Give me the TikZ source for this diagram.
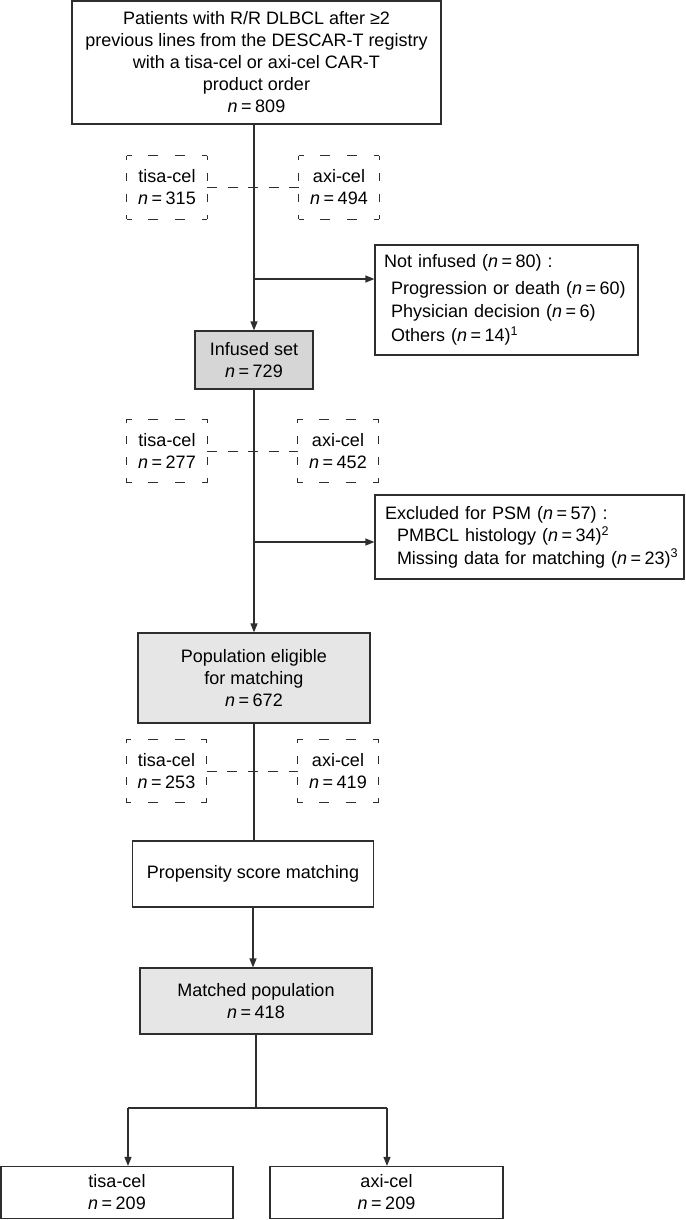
\documentclass[tikz,border=0pt]{standalone}
\usepackage{fontspec}
\setmainfont{Liberation Sans}
\usetikzlibrary{arrows.meta}
\definecolor{linecol}{HTML}{2E2E2E}
\definecolor{fillA}{HTML}{D6D6D6}
\definecolor{fillB}{HTML}{E6E6E6}
\newcommand{\nval}[1]{\textit{n}\hspace{3.5pt}=\hspace{3.5pt}#1}
\newcommand{\dashedges}[1]{%
  \draw[linecol, line width=1pt, dash pattern=on 10pt off 16.667pt, dash phase=5pt]
    (#1.north west) -- (#1.north east) (#1.south west) -- (#1.south east);
  \draw[linecol, line width=1pt, dash pattern=on 8pt off 13pt, dash phase=4pt]
    (#1.north west) -- (#1.south west) (#1.north east) -- (#1.south east);}
\begin{document}
\begin{tikzpicture}[x=1pt,y=-1pt,
  every node/.style={font=\fontsize{18}{22}\selectfont, text=black},
  side/.style={font=\fontsize{18}{23.5}\selectfont},
  box/.style={draw=linecol, line width=1.2pt, inner sep=0pt, align=center},
  dbox/.style={inner sep=0pt, align=center, minimum width=80pt, minimum height=63pt},
  dline/.style={draw=linecol, line width=1pt, dash pattern=on 10pt off 10.5pt},
  conn/.style={draw=linecol, line width=1.2pt},
  arr/.style={conn, -{Triangle[length=9pt,width=7pt]}}
]
\useasboundingbox (0,0) rectangle (685,1220);

% top box
\node[box, minimum width=369pt, minimum height=123pt] (top) at (256.5,62.5)
  {Patients with R/R DLBCL after ≥2\\previous lines from the DESCAR-T registry\\with a tisa-cel or axi-cel CAR-T\\product order\\\nval{809}};

\node[dbox] (tisa1) at (167,187.5) {tisa-cel\\\nval{315}};
\node[dbox] (axi1) at (339,187.5) {axi-cel\\\nval{494}};
\dashedges{tisa1}\dashedges{axi1}

\node[box, side, inner xsep=9pt, text width=245pt, minimum height=110pt, align=left] (notinf) at (506.5,300)
  {\mbox{Not infused (\nval{80}) :}\\[3pt]
   \mbox{\hspace*{7pt}Progression or death (\nval{60})}\\
   \mbox{\hspace*{7pt}Physician decision (\nval{6})}\\
   \mbox{\hspace*{7pt}Others (\nval{14})\textsuperscript{1}}};

\node[box, fill=fillA, minimum width=118pt, minimum height=58pt] (infused) at (254,360)
  {Infused set\\\nval{729}};

\node[dbox] (tisa2) at (167,451) {tisa-cel\\\nval{277}};
\node[dbox] (axi2) at (338,451) {axi-cel\\\nval{452}};
\dashedges{tisa2}\dashedges{axi2}

\node[box, side, inner xsep=10pt, text width=289pt, minimum height=84pt, align=left] (excl) at (529.5,537)
  {\mbox{Excluded for PSM (\nval{57}) :}\\[-1pt]
   \mbox{\hspace*{12pt}PMBCL histology (\nval{34})\textsuperscript{2}}\\[-1pt]
   \mbox{\hspace*{12pt}Missing data for matching (\nval{23})\textsuperscript{3}}};

\node[box, fill=fillB, minimum width=232pt, minimum height=90pt] (pop) at (254,678)
  {Population eligible\\for matching\\\nval{672}};

\node[dbox] (tisa3) at (166.5,771) {tisa-cel\\\nval{253}};
\node[dbox] (axi3) at (338,771) {axi-cel\\\nval{419}};
\dashedges{tisa3}\dashedges{axi3}

\node[box, minimum width=241pt, minimum height=66pt] (psm) at (253,874)
  {Propensity score matching};

\node[box, fill=fillB, minimum width=232pt, minimum height=66pt] (matched) at (256,1001)
  {Matched population\\\nval{418}};

\node[box, minimum width=232pt, minimum height=52pt] (bl) at (117,1192.5)
  {tisa-cel\\\nval{209}};
\node[box, minimum width=233pt, minimum height=52pt] (br) at (386.5,1192.5)
  {axi-cel\\\nval{209}};

% spine and connectors
\draw[arr] (infused |- top.south) -- (infused.north);
\draw[dline] (tisa1.east) -- (axi1.west);
\coordinate (b1) at (254,279);
\draw[arr] (b1) -- (b1 -| notinf.west);

\draw[arr] (infused.south) -- (pop.north);
\draw[dline] (tisa2.east) -- (axi2.west);
\coordinate (b2) at (254,542);
\draw[arr] (b2) -- (b2 -| excl.west);

\draw[conn] (pop.south) -- (pop.south |- psm.north);
\draw[dline] (tisa3.east) -- (axi3.west);

\draw[arr] (psm.south) -- (psm.south |- matched.north);

\coordinate (split) at (256,1108);
\coordinate (sl) at (128,1108);
\coordinate (sr) at (387,1108);
\draw[conn] (matched.south) -- (split);
\draw[conn] (sl) -- (sr);
\draw[arr] (sl) -- (sl |- bl.north);
\draw[arr] (sr) -- (sr |- br.north);
\end{tikzpicture}
\end{document}
